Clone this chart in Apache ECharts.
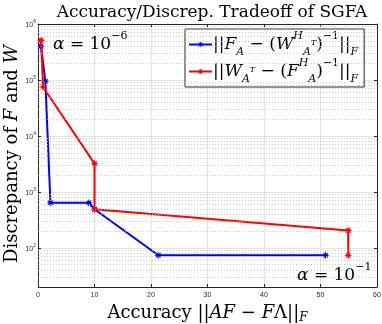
<!DOCTYPE html>
<html>
<head>
<meta charset="utf-8">
<script src="https://cdn.jsdelivr.net/npm/echarts@6/dist/echarts.min.js"></script>
<style>
  html, body { margin: 0; padding: 0; background: #fff; }
  #chart { width: 382px; height: 324px; }
</style>
</head>
<body>
<div id="chart"></div>
<script>
// data
const blueX = [0.53, 1.3, 2.2, 9.0, 10.0, 21.3, 50.9];
const blueY = [4.0e5, 9.5e4, 640, 640, 490, 74, 74];
const redX = [0.53, 0.9, 10.0, 10.0, 54.9, 54.9];
const redY = [5.1e5, 7.5e4, 3200, 490, 205, 74];

const xTicks = [0, 10, 20, 30, 40, 50, 60];

// minor log grid (2..9 x each decade)
const minorY = [];
for (let d = 10; d < 1e6; d *= 10) {
  for (let k = 2; k <= 9; k++) {
    if (k * d > 20) minorY.push(k * d);
  }
}

const SERIF = '"DejaVu Serif", "Liberation Serif", serif';
const AXC = '#262626';

// 8 point star, like matlab's '*' marker drawn thick
const star = 'path://M10,0 L4.5,1.9 L7.1,7.1 L1.9,4.5 L0,10 L-1.9,4.5 L-7.1,7.1 L-4.5,1.9 L-10,0 L-4.5,-1.9 L-7.1,-7.1 L-1.9,-4.5 L0,-10 L1.9,-4.5 L7.1,-7.1 L4.5,-1.9 Z';

function mathStyles(big, small, lhScale, key) {
  const lh = Math.round(big * (lhScale || 1.6));
  const c = key || 'color';
  const s = (o) => { o[c] = '#000'; return o; };
  return {
    n: s({ fontFamily: SERIF, fontSize: big, lineHeight: lh, verticalAlign: 'middle' }),
    i: s({ fontFamily: SERIF, fontStyle: 'italic', fontSize: big, lineHeight: lh, verticalAlign: 'middle' }),
    sup: s({ fontFamily: SERIF, fontSize: small, lineHeight: small, verticalAlign: 'top' }),
    supi: s({ fontFamily: SERIF, fontStyle: 'italic', fontSize: small, lineHeight: small, verticalAlign: 'top' }),
    subi: s({ fontFamily: SERIF, fontStyle: 'italic', fontSize: small, lineHeight: small, verticalAlign: 'bottom' }),
    midi: s({ fontFamily: SERIF, fontStyle: 'italic', fontSize: small - 3, lineHeight: small, verticalAlign: 'middle', padding: [0, 0, 4, 0] })
  };
}

const legendText = {
  blue: '{n|||}{i|F}{subi|A}{n| − (}{i|W}{supi|H}{subi|A}{midi|T}{n|)}{sup|−1}{n|||}{subi|F}',
  red: '{n|||}{i|W}{subi|A}{midi|T}{n| − (}{i|F}{supi|H}{subi|A}{n|)}{sup|−1}{n|||}{subi|F}'
};

function pairs(xs, ys) {
  return xs.map((x, i) => [x, ys[i]]);
}

const chart = echarts.init(document.getElementById('chart'), null, { renderer: 'canvas' });

const alphaRich = {
  i: { fontFamily: SERIF, fontStyle: 'italic', fontSize: 17, lineHeight: 22, verticalAlign: 'bottom', fill: '#000' },
  n: { fontFamily: SERIF, fontSize: 17, lineHeight: 22, verticalAlign: 'bottom', fill: '#000' },
  sup: { fontFamily: SERIF, fontSize: 11, lineHeight: 11, verticalAlign: 'top', fill: '#000' }
};

const option = {
  animation: false,
  backgroundColor: '#fff',
  title: {
    text: 'Accuracy/Discrep. Tradeoff of SGFA',
    left: 207,
    top: -1,
    textAlign: 'center',
    textStyle: { fontFamily: SERIF, fontWeight: 'normal', fontSize: 17, color: '#000' }
  },
  grid: { left: 38, right: 5, top: 24, bottom: 37, containLabel: false, outerBoundsMode: 'none' },
  legend: {
    data: ['blue', 'red'],
    orient: 'vertical',
    left: 185,
    top: 29,
    padding: [2, 6, 2, 3],
    itemGap: 0,
    itemWidth: 23,
    itemHeight: 8,
    backgroundColor: '#fff',
    borderColor: AXC,
    borderWidth: 1,
    borderRadius: 0,
    formatter: name => legendText[name],
    textStyle: { rich: mathStyles(17, 11), padding: [0, 0, 0, -4] }
  },
  xAxis: [{
    type: 'value',
    min: 0, max: 60, interval: 10,
    name: '{n|Accuracy ||}{i|AF}{n| − }{i|F}{n|Λ||}{subi|F}',
    nameLocation: 'middle',
    nameGap: 4,
    nameTextStyle: { rich: mathStyles(18, 12, 1.2) },
    axisLine: { show: true, lineStyle: { color: AXC, width: 1 } },
    axisTick: { inside: true, length: 3, lineStyle: { color: AXC } },
    axisLabel: { fontSize: 7, color: AXC, margin: 5, fontFamily: 'Liberation Sans, Arial' },
    splitLine: { show: true, lineStyle: { color: '#e3e3e3', width: 1 } }
  }, {
    type: 'value', position: 'top',
    min: 0, max: 60, interval: 10,
    axisLine: { show: true, onZero: false, lineStyle: { color: AXC, width: 1 } },
    axisTick: { inside: true, length: 3, lineStyle: { color: AXC } },
    axisLabel: { show: false },
    splitLine: { show: false }
  }],
  yAxis: [{
    type: 'log',
    logBase: 10,
    min: 20, max: 1e6,
    axisLine: { show: true, onZero: false, lineStyle: { color: AXC, width: 1 } },
    axisTick: { inside: true, length: 3, lineStyle: { color: AXC } },
    axisLabel: {
      margin: 2,
      formatter: v => {
        const e = Math.round(Math.log10(v));
        if (Math.abs(Math.pow(10, e) - v) > 1e-6 * v) return '';
        return '{b|10}{e|' + e + '}';
      },
      rich: {
        b: { fontSize: 7, color: AXC, fontFamily: 'Liberation Sans, Arial', verticalAlign: 'bottom', lineHeight: 10 },
        e: { fontSize: 5, color: AXC, fontFamily: 'Liberation Sans, Arial', verticalAlign: 'top', lineHeight: 10 }
      }
    },
    splitLine: { show: true, lineStyle: { color: '#e3e3e3', width: 1 } }
  }, {
    type: 'log', position: 'right',
    logBase: 10,
    min: 20, max: 1e6,
    axisLine: { show: true, onZero: false, lineStyle: { color: AXC, width: 1 } },
    axisTick: { inside: true, length: 3, lineStyle: { color: AXC } },
    axisLabel: { show: false },
    splitLine: { show: false }
  }],
  series: [
    {
      name: 'grid-minor',
      type: 'line',
      data: [],
      z: 1,
      silent: true,
      markLine: {
        silent: true,
        symbol: ['none', 'none'],
        label: { show: false },
        lineStyle: { type: [1, 2], color: '#bdbdbd', width: 0.8 },
        data: minorY.map(v => ({ yAxis: v }))
      }
    },
    {
      name: 'blue',
      type: 'line',
      data: pairs(blueX, blueY),
      symbol: star,
      symbolSize: 8,
      color: '#0000ff',
      lineStyle: { color: '#0000ff', width: 2 },
      itemStyle: { color: '#0000ff' },
      z: 3
    },
    {
      name: 'red',
      type: 'line',
      data: pairs(redX, redY),
      symbol: star,
      symbolSize: 8,
      color: '#ff0000',
      lineStyle: { color: '#ff0000', width: 2 },
      itemStyle: { color: '#ff0000' },
      z: 4
    }
  ],
  graphic: [
    { type: 'text', left: 53, top: 31, z: 10, style: { text: '{i|α}{n| = 10}{sup|−6}', rich: alphaRich } },
    { type: 'text', left: 297, top: 262, z: 10, style: { text: '{i|α}{n| = 10}{sup|−1}', rich: alphaRich } },
    // y axis title, rotated
    {
      type: 'text', x: 12, y: 154, rotation: Math.PI / 2, z: 10,
      style: {
        text: '{n|Discrepancy of }{i|F}{n| and }{i|W}',
        align: 'center', verticalAlign: 'middle',
        rich: mathStyles(18, 12, 1.2, 'fill')
      }
    }
  ]
};

chart.setOption(option);
</script>
</body>
</html>
